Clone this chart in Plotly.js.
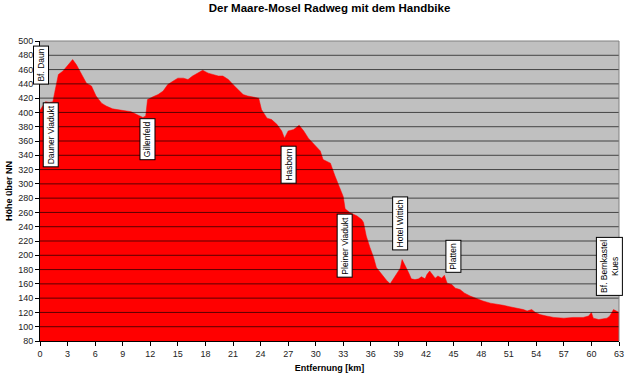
<!DOCTYPE html>
<html>
<head>
<meta charset="utf-8">
<script src="https://cdn.plot.ly/plotly-3.0.1.min.js"></script>
<style>html,body{margin:0;padding:0;background:#fff;}#chart{width:626px;height:377px;}</style>
</head>
<body>
<div id="chart"></div>
<script>
// Distance along the route [km]
var distanceKm = [0,0.3,0.6,1.0,1.4,1.6,1.8,2.0,2.5,3.05,3.55,3.95,4.5,5.05,5.6,6.1,6.7,7.2,7.9,8.85,9.9,10.7,11.2,11.5,11.7,12.3,12.85,13.4,13.9,14.5,15.0,15.6,16.1,16.6,17.2,17.7,18.3,18.8,19.4,19.9,20.5,21.0,21.5,22.1,22.6,23.2,23.8,24.1,24.7,25.2,25.8,26.3,26.6,27.0,27.6,28.2,28.7,29.2,29.8,30.5,30.8,31.6,32.1,32.5,33.0,33.2,33.7,34.5,35.0,35.2,35.5,35.9,36.3,36.6,37.0,37.4,37.7,38.1,38.4,38.8,39.2,39.4,39.7,40.1,40.4,40.8,41.2,41.5,41.9,42.1,42.4,42.7,43.0,43.3,43.7,44.0,44.3,44.8,45.2,45.7,46.2,46.8,47.5,48.2,49.0,49.7,50.4,51.1,51.9,52.6,53.0,53.5,53.9,54.4,55.1,55.9,57.0,58.0,59.1,59.7,60.0,60.2,60.8,61.3,61.7,62.0,62.4,62.7,63.0];
// Elevation above sea level [m]
var elevationM = [403,410,415,414,415,428,442,453,458,467,474,467,455,441,437,423,413,409,405,403,401,396,393,395,418,422,425,430,439,444,448,448,446,451,455,459,455,453,451,451,446,439,432,425,423,421,420,404,392,390,383,374,364,374,376,382,374,364,355,346,334,329,311,299,282,265,260,255,250,246,227,211,197,183,176,170,165,160,166,173,182,194,187,176,167,166,167,170,167,173,178,173,168,171,168,172,161,159,154,152,147,143,139,136,133,132,130,128,126,124,122,124,120,117,115,113,112,113,113,115,120,112,110,111,112,115,124,122,120];

// Place labels
var placeNames = ["Bf. Daun","Dauner Viadukt","Gillenfeld","Hasborn","Pleiner Viadukt","Hotel Wittich","Platten","Bf. Bernkastel<br>Kues"];
var placeKm = [0.14,1.2,11.68,27.0,33.15,39.2,44.95,61.9];
var placeLabelY = [466,368,363,327,213,245,198,185];

var gridValues = [100,120,140,160,180,200,220,240,260,280,300,320,340,360,380,400,420,440,460,480];

var FONT = "Liberation Sans, Arial, sans-serif";

var shapes = gridValues.map(function(v){
  return {type:"line", xref:"paper", x0:0, x1:1, yref:"y", y0:v, y1:v,
          line:{color:"rgba(0,0,0,0.65)", width:1}, layer:"above"};
});
shapes.push({type:"line", xref:"paper", x0:0, x1:1, yref:"paper", y0:1, y1:1, line:{color:"#808080", width:1}, layer:"above"});
shapes.push({type:"line", xref:"paper", x0:1, x1:1, yref:"paper", y0:0, y1:1, line:{color:"#808080", width:1}, layer:"above"});

var annotations = placeNames.map(function(t,i){
  return {x:placeKm[i], y:placeLabelY[i], xref:"x", yref:"y", text:t, showarrow:false,
          textangle:-90, xanchor:"center", yanchor:"middle",
          font:{family:FONT, size:8.5, color:"#000"},
          bgcolor:"#ffffff", bordercolor:"#000000", borderwidth:1, borderpad:2};
});

var trace = {
  x: distanceKm, y: elevationM, type:"scatter", mode:"lines",
  fill:"tozeroy", fillcolor:"#ff0000", line:{color:"#ff0000", width:0.5, shape:"linear"},
  hoverinfo:"x+y"
};

var layout = {
  width:626, height:377,
  margin:{l:40, r:7, t:41, b:36, pad:0},
  paper_bgcolor:"#ffffff", plot_bgcolor:"#c0c0c0",
  showlegend:false,
  title:{text:"<b>Der Maare-Mosel Radweg mit dem Handbike</b>", font:{family:FONT, size:11.5, color:"#000"},
         x:0.5, xanchor:"center", xref:"paper", y:0.979, yref:"container", yanchor:"middle"},
  xaxis:{range:[0,63], dtick:3, tick0:0, showgrid:false, zeroline:false,
         showline:true, linecolor:"#000", linewidth:1, ticks:"outside", ticklen:4, tickcolor:"#000",
         tickfont:{family:FONT, size:9, color:"#222"}, layer:"above traces",
         title:{text:"<b>Entfernung [km]</b>", font:{family:FONT, size:9, color:"#000"}, standoff:6}},
  yaxis:{range:[80,500], dtick:20, tick0:80, showgrid:false, zeroline:false,
         showline:true, linecolor:"#000", linewidth:1, ticks:"outside", ticklen:4, tickcolor:"#000",
         tickfont:{family:FONT, size:9, color:"#222"}, layer:"above traces",
         title:{text:"<b>Höhe über NN</b>", font:{family:FONT, size:9, color:"#000"}, standoff:4}},
  shapes:shapes,
  annotations:annotations
};

Plotly.newPlot("chart", [trace], layout, {displayModeBar:false, staticPlot:true});
</script>
</body>
</html>
